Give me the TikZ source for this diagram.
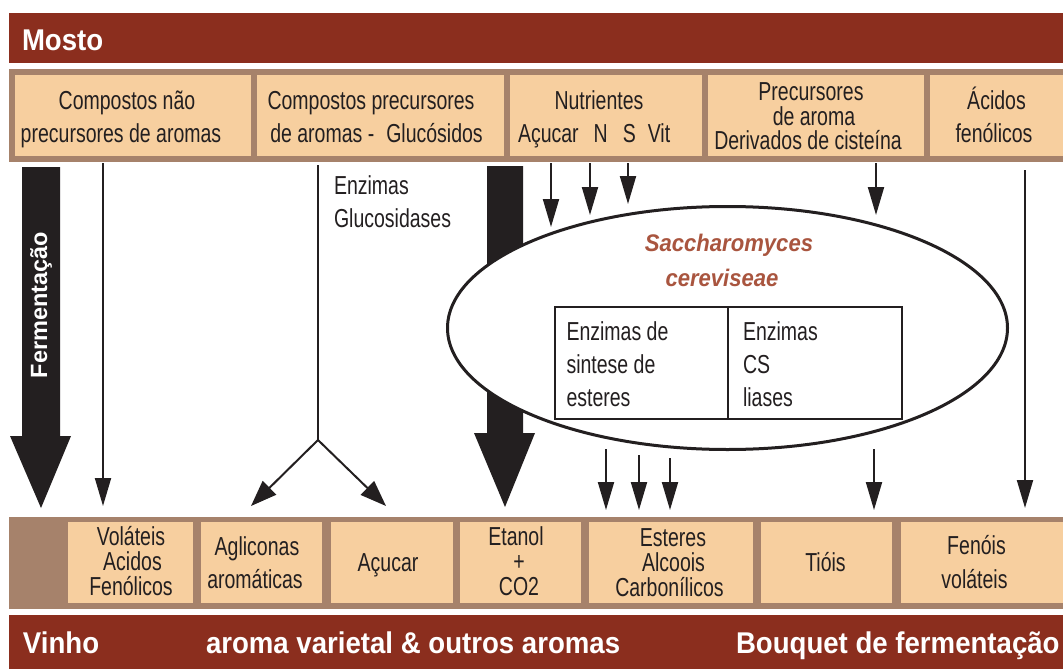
\documentclass[tikz,border=0pt]{standalone}
\usepackage{fontspec}
\usetikzlibrary{arrows.meta,shapes.geometric}
\newfontfamily\cn{Liberation Sans}[FakeStretch=0.75]
\newfontfamily\cb{Liberation Sans}[FakeStretch=0.92]
\newfontfamily\cf{Liberation Sans}[FakeStretch=1.0]
\newfontfamily\cs{Liberation Sans}[FakeStretch=0.92]
\definecolor{barred}{HTML}{8B2E1E}
\definecolor{framec}{HTML}{A6826B}
\definecolor{peach}{HTML}{F7CF9F}
\definecolor{ink}{HTML}{231F20}
\definecolor{sacc}{HTML}{A9553F}
\begin{document}
\begin{tikzpicture}[x=1pt,y=-1pt,
  pbox/.style={fill=peach,draw=none,inner sep=0pt,outer sep=0pt,anchor=north west},
  ln/.style={inner sep=0pt,outer sep=0pt,anchor=base,text=ink,font=\cn\fontsize{26}{26}\selectfont},
  lnw/.style={ln,anchor=base west},
  bigt/.style={inner sep=0pt,outer sep=0pt,anchor=base west,text=white,font=\cb\bfseries\fontsize{30}{30}\selectfont},
  tarrow/.style={draw=ink,line width=2pt,-{Triangle[length=28pt,width=16pt]}},
  yarrow/.style={draw=ink,line width=2pt,-{Triangle[length=26pt,width=19pt]}},
  sacct/.style={inner sep=0pt,anchor=base,text=sacc,font=\cs\bfseries\itshape\fontsize{24}{24}\selectfont},
  enzbox/.style={draw=ink,line width=2pt,fill=white,inner sep=0pt,outer sep=0pt,minimum height=112pt,anchor=north west}
]
\useasboundingbox (0,0) rectangle (1063,669);
\fill[white] (0,0) rectangle (1063,669);

% ---- top bar
\fill[barred] (9,13) rectangle (1063,63);
\node[bigt] (mosto) at (22,50.5) {Mosto};

% ---- top frame and boxes
\fill[framec] (9,69) rectangle (1063,162);
\node[pbox,minimum width=236pt,minimum height=81pt] (b1) at (15,75) {};
\node[pbox,minimum width=247pt,minimum height=81pt] (b2) at (257,75) {};
\node[pbox,minimum width=192pt,minimum height=81pt] (b3) at (510,75) {};
\node[pbox,minimum width=216pt,minimum height=81pt] (b4) at (708,75) {};
\node[pbox,minimum width=133pt,minimum height=81pt] (b5) at (930,75) {};

\node[ln] (t1a) at (127,109.5) {Compostos não};
\node[ln] (t1b) at (121,142) {precursores de aromas};
\node[ln] (t2a) at (371,109.5) {Compostos precursores};
\node[ln] (t2b) at (376.5,142) {de aromas -\hspace{12pt}Glucósidos};
\node[ln] (t3a) at (599,109.5) {Nutrientes};
\node[lnw] (t3b) at (518,142) {Açucar\hspace{15pt}N\hspace{15pt}S\hspace{12pt}Vit};
\node[ln] (t4a) at (811,100) {Precursores};
\node[ln] (t4b) at (814,125) {de aroma};
\node[ln] (t4c) at (808,149.5) {Derivados de cisteína};
\node[ln] (t5a) at (996.5,109.5) {Ácidos};
\node[ln] (t5b) at (994,142) {fenólicos};

% ---- big arrow: Fermentacao
\fill[ink] (22,167) -- (60,167) -- (60,436) -- (71,436) -- (41,508) -- (10,436) -- (22,436) -- cycle;
\node[inner sep=0pt,anchor=base,text=white,font=\cf\bfseries\fontsize{23.5}{23.5}\selectfont,rotate=90] (ferm) at (47,305) {Fermentação};

% ---- big arrow behind yeast
\fill[ink] (487,166) -- (523,166) -- (523,433) -- (535,433) -- (505,507) -- (474,433) -- (487,433) -- cycle;

% ---- thin arrow left
\coordinate (s1) at (103,163);
\coordinate (e1) at (103,506);
\draw[tarrow] (s1) -- (e1);

% ---- glucosidase split
\coordinate (gs) at (318,165);
\coordinate (gk) at (318,440);
\coordinate (gl) at (251,506);
\coordinate (gr) at (386,506);
\draw[draw=ink,line width=2pt] (gs) -- (gk);
\draw[yarrow] (gk) -- (gl);
\draw[yarrow] (gk) -- (gr);
\node[lnw] (enz1) at (334,194) {Enzimas};
\node[lnw] (enz2) at (334,227) {Glucosidases};

% ---- yeast
\node[draw=ink,line width=3pt,fill=white,ellipse,minimum width=560pt,minimum height=243pt,inner sep=0pt] (yeast) at (727.5,328) {};
\node[sacct] (sc1) at (729,251.7) {Saccharomyces};
\node[sacct] (sc2) at (722,286.7) {cereviseae};
\node[enzbox,minimum width=173pt] (ez1) at (555,307) {};
\node[enzbox,minimum width=174pt] (ez2) at (728,307) {};
\node[lnw] (ez1a) at (566.5,340) {Enzimas de};
\node[lnw] (ez1b) at (566.5,373) {sintese de};
\node[lnw] (ez1c) at (566.5,406) {esteres};
\node[lnw] (ez2a) at (743,340) {Enzimas};
\node[lnw] (ez2b) at (743,373) {CS};
\node[lnw] (ez2c) at (743,406) {liases};

% ---- nutrient arrows into yeast
\coordinate (n1s) at (551,163); \coordinate (n1e) at (551,227);
\coordinate (n2s) at (590,163); \coordinate (n2e) at (590,215);
\coordinate (n3s) at (628,163); \coordinate (n3e) at (628,204);
\coordinate (n4s) at (876,163); \coordinate (n4e) at (876,215);
\draw[tarrow] (n1s) -- (n1e);
\draw[tarrow] (n2s) -- (n2e);
\draw[tarrow] (n3s) -- (n3e);
\draw[tarrow] (n4s) -- (n4e);

% ---- arrows out of yeast
\coordinate (o1s) at (606,449); \coordinate (o1e) at (606,510);
\coordinate (o2s) at (639,455); \coordinate (o2e) at (639,510);
\coordinate (o3s) at (670,458); \coordinate (o3e) at (670,510);
\coordinate (o4s) at (874,449); \coordinate (o4e) at (874,510);
\draw[tarrow] (o1s) -- (o1e);
\draw[tarrow] (o2s) -- (o2e);
\draw[tarrow] (o3s) -- (o3e);
\draw[tarrow] (o4s) -- (o4e);

% ---- right long arrow
\coordinate (rs) at (1025,170);
\coordinate (re) at (1025,508);
\draw[tarrow] (rs) -- (re);

% ---- bottom frame and boxes
\fill[framec] (9,517) rectangle (1063,609);
\node[pbox,minimum width=125pt,minimum height=81pt] (c1) at (68,522) {};
\node[pbox,minimum width=121pt,minimum height=81pt] (c2) at (201,522) {};
\node[pbox,minimum width=122pt,minimum height=81pt] (c3) at (330.5,522) {};
\node[pbox,minimum width=121pt,minimum height=81pt] (c4) at (460,522) {};
\node[pbox,minimum width=164pt,minimum height=81pt] (c5) at (589,522) {};
\node[pbox,minimum width=131pt,minimum height=81pt] (c6) at (761,522) {};
\node[pbox,minimum width=163pt,minimum height=81pt] (c7) at (900.5,522) {};

\node[ln] (u1a) at (131,545.7) {Voláteis};
\node[ln] (u1b) at (132.5,570.7) {Acidos};
\node[ln] (u1c) at (131,595.7) {Fenólicos};
\node[ln] (u2a) at (257,555) {Agliconas};
\node[ln] (u2b) at (255,588) {aromáticas};
\node[ln] (u3a) at (388,571.7) {Açucar};
\node[ln] (u4a) at (516,545.7) {Etanol};
\node[ln] (u4b) at (519,570.7) {+};
\node[ln] (u4c) at (519,595.7) {CO2};
\node[ln] (u5a) at (673,546.7) {Esteres};
\node[ln] (u5b) at (673.5,571.7) {Alcoois};
\node[ln] (u5c) at (669.5,596.7) {Carbonílicos};
\node[ln] (u6a) at (825.5,571.7) {Tióis};
\node[ln] (u7a) at (976.5,554.3) {Fenóis};
\node[ln] (u7b) at (974.5,588) {voláteis};

% ---- bottom bar
\fill[barred] (9,615) rectangle (1063,669);
\node[bigt] (vinho) at (23,653.5) {Vinho};
\node[bigt] (varietal) at (206,653.5) {aroma varietal \& outros aromas};
\node[bigt] (bouquet) at (736,653.5) {Bouquet de fermentação};
\end{tikzpicture}
\end{document}
